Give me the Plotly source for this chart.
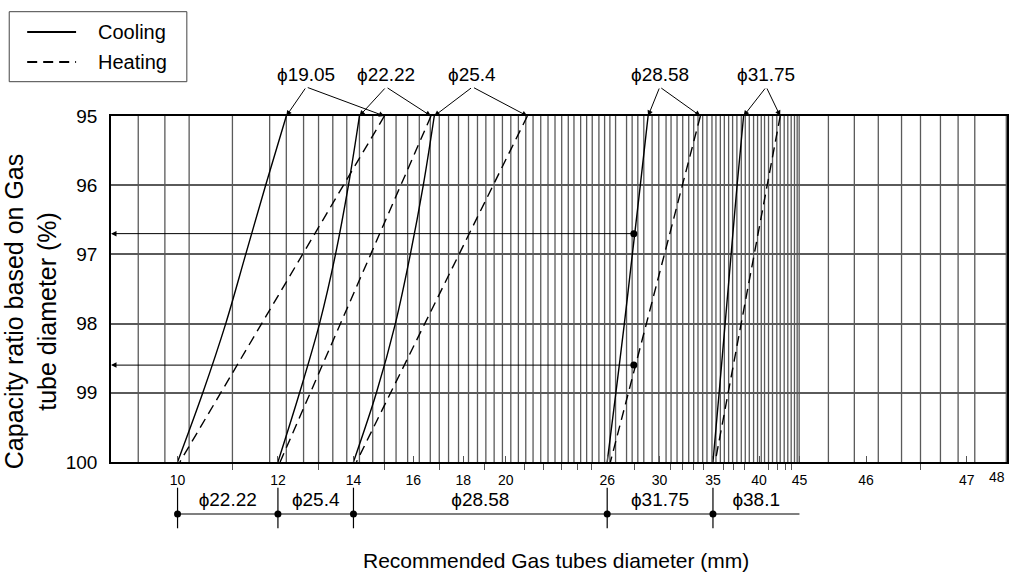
import plotly.graph_objects as go

# ---------------- data ----------------
# x axis = position along the nomogram scale (chart units, 0 = left border)
capacity = [95, 96, 97, 98, 99, 100]          # capacity ratio (%) levels
sizes = ["ϕ19.05", "ϕ22.22", "ϕ25.4", "ϕ28.58", "ϕ31.75"]

cooling_x = {
    "ϕ19.05": [175.7, 155, 135, 115, 92, 66.7],
    "ϕ22.22": [249, 238, 225, 209, 189, 167.3],
    "ϕ25.4": [324, 313, 300, 285, 266, 243],
    "ϕ28.58": [538.3, 530.5, 522.5, 514.5, 506, 497.3],
    "ϕ31.75": [634, 627.5, 621.5, 615.5, 609.5, 603.3],
}
heating_cap = [95, 100]
heating_x = {
    "ϕ19.05": [274, 69],
    "ϕ22.22": [320.7, 169.5],
    "ϕ25.4": [417.3, 246],
    "ϕ28.58": [590.7, 500.5],
    "ϕ31.75": [670.7, 605.5],
}
label_apex_x = [195.7, 275.7, 362.3, 550, 656.7]

tick_text = ["10", "12", "14", "16", "18", "20", "26", "30", "35", "40", "45", "46", "47"]
tick_pos = [66.7, 167.3, 243, 303, 353, 395.7, 497.3, 549.7, 603.3, 649.5, 690, 756.7, 857.7]
edge_tick_text, edge_tick_pos = "48", 897.5    # last label, at the right edge
minor_ticks = [121.7, 208, 274, 329, 374.7, 414.7, 433.3, 451.3, 467.3, 481.7, 525, 560.7, 573,
               584, 594, 614, 624, 635, 659, 668, 675.7, 682, 811.3]
grid_x = [27.3, 54, 78.3, 121.7, 159, 175.7, 193, 208, 222.3, 236.3, 249, 262.3, 274, 285.7, 297.3,
          309, 320, 329, 338.3, 348.3, 358.3, 367.3, 375.7, 384, 392.3, 400.7, 408.3, 415.7, 423,
          430.7, 438, 445, 451.7, 458.3, 464, 470.7, 476.7, 482.3, 489, 494.7, 500, 505.7, 516.7,
          522.3, 528, 534, 542.3, 549, 556.3, 561.3, 567.3, 573, 579, 584, 588.3, 593, 597.3,
          602.3, 606.3, 610.7, 614.7, 619, 623, 627.3, 631.7, 635.7, 639.7, 644, 648, 651.7, 655,
          659, 663, 667.3, 670.7, 674.7, 678.3, 681.7, 685, 687.7, 689.7, 719, 745, 769, 792.3,
          811.3, 831.3, 849, 865.7, 897.3]

# recommended diameter ranges (bounds given as scale labels)
range_labels = ["ϕ22.22", "ϕ25.4", "ϕ28.58", "ϕ31.75", "ϕ38.1"]
range_bounds = ["10", "12", "14", "26", "35", "45"]

# example read-offs
example_x = [524, 524]
example_cap = [96.7, 98.6]

legend_names = ["Cooling", "Heating"]
legend_dash = ["solid", "10px,6px"]

# ---------------- layout helpers ----------------
W, H = 1009, 573
ML, MR, MT, MB = 111, 0, 116, 43
PW, PH = W - ML - MR, H - MT - MB
MAIN_BOTTOM_PX = 462
TICK_FONT = dict(size=14, family="Liberation Sans Narrow, Arial Narrow, Liberation Sans")


def py2paper(py):
    return (H - MB - py) / PH


def px2paper(px):
    return (px - ML) / PW


Y_PER_PX = 5 / (MAIN_BOTTOM_PX - MT)
pos_of = dict(zip(tick_text, tick_pos))

fig = go.Figure()

# vertical grid lines
gx, gy = [], []
for g in grid_x:
    gx += [g, g, None]
    gy += [95, 100, None]
fig.add_trace(go.Scatter(x=gx, y=gy, mode="lines", line=dict(color="#5a5a5a", width=1.3),
                         hoverinfo="skip", showlegend=False))

# curves
for s in sizes:
    fig.add_trace(go.Scatter(x=cooling_x[s], y=capacity, mode="lines", name="Cooling " + s,
                             showlegend=False,
                             line=dict(color="black", width=1.4, shape="spline")))
for s in sizes:
    fig.add_trace(go.Scatter(x=heating_x[s], y=heating_cap, mode="lines", name="Heating " + s,
                             showlegend=False,
                             line=dict(color="black", width=1.4, dash=legend_dash[1])))

# example dots
fig.add_trace(go.Scatter(x=example_x, y=example_cap, mode="markers",
                         marker=dict(color="black", size=7), showlegend=False, hoverinfo="skip"))

# dimension strip (y2)
bx = [pos_of[b] for b in range_bounds]
fig.add_trace(go.Scatter(x=[bx[0], bx[-1]], y=[0.372, 0.372], mode="lines", xaxis="x", yaxis="y2",
                         line=dict(color="black", width=1.2), showlegend=False, hoverinfo="skip"))
vx, vy = [], []
for b in bx[:-1]:
    vx += [b, b, None]
    vy += [0.04, 0.984, None]
fig.add_trace(go.Scatter(x=vx, y=vy, mode="lines", xaxis="x", yaxis="y2",
                         line=dict(color="black", width=1.2), showlegend=False, hoverinfo="skip"))
fig.add_trace(go.Scatter(x=bx[:-1], y=[0.372] * (len(bx) - 1), mode="markers", xaxis="x", yaxis="y2",
                         marker=dict(color="black", size=7), showlegend=False, hoverinfo="skip"))
fig.add_trace(go.Scatter(x=[(bx[k] + bx[k + 1]) / 2 for k in range(len(range_labels))],
                         y=[0.674] * len(range_labels), mode="text", text=range_labels,
                         xaxis="x", yaxis="y2", textfont=dict(size=19, color="black"),
                         showlegend=False, hoverinfo="skip"))

annotations = []
apex_y = 95 - (MT - 87) * Y_PER_PX
for i, s in enumerate(sizes):
    annotations.append(dict(x=label_apex_x[i], y=py2paper(74), xref="x", yref="paper", text=s,
                            showarrow=False, font=dict(size=19), xanchor="center", yanchor="middle"))
    for tip in (cooling_x[s][0], heating_x[s][0]):
        annotations.append(dict(x=tip, y=95, xref="x", yref="y", text="", showarrow=True,
                                axref="x", ayref="y", ax=label_apex_x[i], ay=apex_y,
                                arrowhead=2, arrowsize=1.1, arrowwidth=1, arrowcolor="black"))
for ex, ey in zip(example_x, example_cap):
    annotations.append(dict(x=0, y=ey, xref="x", yref="y", text="", showarrow=True,
                            axref="x", ayref="y", ax=ex, ay=ey,
                            arrowhead=2, arrowsize=1.1, arrowwidth=1, arrowcolor="black"))

# last scale label, kept fully inside the figure at the right edge
annotations.append(dict(x=edge_tick_pos, y=py2paper(477), xref="x", yref="paper",
                        text=edge_tick_text, showarrow=False, font=TICK_FONT,
                        xanchor="right", yanchor="middle"))

annotations.append(dict(x=px2paper(30), y=py2paper(312), xref="paper", yref="paper",
                        text="Capacity ratio based on Gas<br>tube diameter (%)", textangle=-90,
                        showarrow=False, font=dict(size=25), xanchor="center", yanchor="middle"))
annotations.append(dict(x=px2paper(557), y=py2paper(560), xref="paper", yref="paper",
                        text="Recommended Gas tubes diameter (mm)", showarrow=False,
                        font=dict(size=21), xanchor="center", yanchor="middle"))

# key (legend box)
shapes = [dict(type="rect", xref="paper", yref="paper",
               x0=px2paper(9), x1=px2paper(187), y0=py2paper(81.7), y1=py2paper(11.7),
               line=dict(color="#444", width=1), fillcolor="white", layer="above")]
for k, (nm, dsh) in enumerate(zip(legend_names, legend_dash)):
    rowy = py2paper(32 + 30 * k)
    shapes.append(dict(type="line", xref="paper", yref="paper", x0=px2paper(27), x1=px2paper(76),
                       y0=rowy, y1=rowy, line=dict(color="black", width=2, dash=dsh)))
    annotations.append(dict(x=px2paper(96), y=rowy, xref="paper", yref="paper", text=nm,
                            showarrow=False, font=dict(size=20), xanchor="left", yanchor="middle"))

fig.update_layout(
    width=W, height=H, margin=dict(l=ML, r=MR, t=MT, b=MB),
    plot_bgcolor="white", paper_bgcolor="white", showlegend=False,
    font=dict(family="Liberation Sans, Arial, sans-serif", color="black"),
    xaxis=dict(range=[0, PW], domain=[0, 1], anchor="y", showgrid=False, zeroline=False,
               showline=True, linecolor="black", linewidth=1.5, mirror=True,
               tickmode="array", tickvals=tick_pos, ticktext=tick_text,
               ticks="inside", ticklen=6, tickcolor="#555", ticklabelstandoff=4,
               ticklabeloverflow="allow", tickfont=TICK_FONT,
               minor=dict(tickmode="array", tickvals=minor_ticks + [edge_tick_pos], ticks="outside",
                          ticklen=6, tickcolor="#555", showgrid=False)),
    yaxis=dict(domain=[py2paper(MAIN_BOTTOM_PX), 1], range=[100, 95], tickvals=capacity,
               showgrid=True, gridcolor="#5a5a5a", gridwidth=1.5, zeroline=False,
               showline=True, linecolor="black", linewidth=1.5, mirror=True,
               ticks="", ticklabelstandoff=8, tickfont=dict(size=19)),
    yaxis2=dict(domain=[0, py2paper(487)], range=[0, 1], visible=False, anchor="x"),
    shapes=shapes,
    annotations=annotations,
)

fig.write_html("out.html")
